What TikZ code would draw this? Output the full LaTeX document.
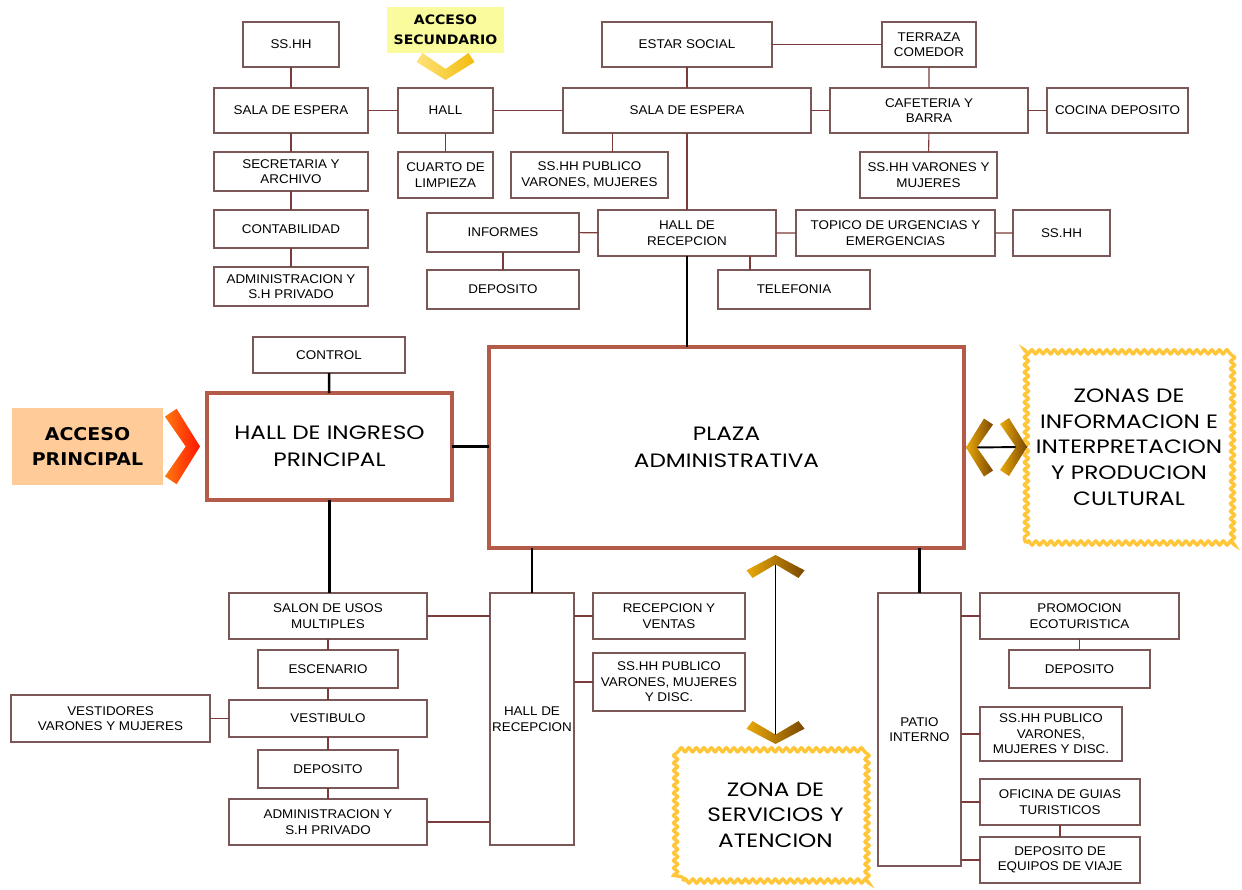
\documentclass[tikz,border=0pt]{standalone}
\usepackage{fontspec}
\setmainfont[FakeStretch=1.06]{Liberation Sans}
\newfontfamily\zonefont[FakeStretch=1.2]{Poppins}
\newfontfamily\accfont[FakeStretch=1.08]{DejaVu Sans}
\usepackage{tikz}
\usetikzlibrary{calc,decorations.pathmorphing}
\definecolor{boxline}{HTML}{7A5858}
\definecolor{linkline}{HTML}{7B3B3B}
\definecolor{hallbrown}{HTML}{B35A48}
\definecolor{waveyellow}{HTML}{FFC63A}
\definecolor{accorange}{HTML}{FFCC99}
\definecolor{accyellow}{HTML}{F9FB9C}
\definecolor{chevbrown}{HTML}{7A4700}
\definecolor{chevgold}{HTML}{EBAA0A}
\definecolor{chevred}{HTML}{FF1200}
\definecolor{chevorange}{HTML}{FF7A10}
\definecolor{chevyellow}{HTML}{F2BC0C}
\definecolor{chevpale}{HTML}{FFE27A}

\begin{document}
\begin{tikzpicture}[x=0.02cm, y=-0.02cm,
  span/.style args={#1/#2/#3/#4}{at={({(#1+#3)/2},{(#2+#4)/2})}, anchor=center,
    minimum width={(#3-#1)*0.02cm}, minimum height={(#4-#2)*0.02cm}},
  room/.style={draw=boxline, line width=0.6pt, fill=white, inner sep=0pt, outer sep=0pt,
    align=center, font=\fontsize{7.2}{8.8}\selectfont},
  bigroom/.style={draw=hallbrown, line width=2.6pt, fill=white, inner sep=0pt, outer sep=0pt,
    align=center, font=\zonefont\fontsize{11}{15.4}\selectfont},
  zone/.style={draw=waveyellow, line width=1.9pt, fill=white, inner sep=0pt, outer sep=0pt,
    decorate, decoration={snake, amplitude=0.04cm, segment length=0.15cm},
    align=center, font=\zonefont\fontsize{11}{14.6}\selectfont},
  access/.style={inner sep=0pt, outer sep=0pt, align=center},
  link/.style={linkline, line width=0.6pt},
  trunk/.style={black, line width=1.4pt},
  twoway/.style={black, line width=1.1pt},
  pics/chev/.style 2 args={code={
    \shade[left color=#1, right color=#2] (0,0) -- (-18,-29) -- (-27,-23) -- (-11,0)
      -- (-27,23) -- (-18,29) -- cycle;}},
]
\useasboundingbox (0,0) rectangle (1242,890);

% upper wing rooms
\node[room, span=243/22/339/67] (ssa) {SS.HH};
\node[room, span=214/88/368/133] (salaA) {SALA DE ESPERA};
\node[room, span=214/152/368/191] (secre) {SECRETARIA Y\\ARCHIVO};
\node[room, span=214/210/368/248] (conta) {CONTABILIDAD};
\node[room, span=214/267/368/306] (adminA) {ADMINISTRACION Y\\S.H PRIVADO};
\node[room, span=398/88/493/133] (hall) {HALL};
\node[room, span=398/152/493/198] (cuarto) {CUARTO DE\\LIMPIEZA};
\node[room, span=602/22/772/67] (estar) {ESTAR SOCIAL};
\node[room, span=882/22/976/67] (terraza) {TERRAZA\\COMEDOR};
\node[room, span=563/88/811/133] (salaB) {SALA DE ESPERA};
\node[room, span=830/88/1028/133] (cafe) {CAFETERIA Y\\BARRA};
\node[room, span=1047/88/1188/133] (cocina) {COCINA DEPOSITO};
\node[room, span=511/152/668/198] (sspub) {SS.HH PUBLICO\\VARONES, MUJERES};
\node[room, span=860/152/997/198] (ssvar) {SS.HH VARONES Y\\MUJERES};
\node[room, span=427/213/579/252] (informes) {INFORMES};
\node[room, span=427/270/579/309] (depA) {DEPOSITO};
\node[room, span=598/210/776/256] (recA) {HALL DE\\RECEPCION};
\node[room, span=796/210/995/256] (topico) {TOPICO DE URGENCIAS Y\\EMERGENCIAS};
\node[room, span=1013/210/1110/256] (ssb) {SS.HH};
\node[room, span=718/270/870/309] (telef) {TELEFONIA};
\node[room, span=253/337/405/373] (control) {CONTROL};

% lower wing rooms
\node[room, span=229/593/427/639] (salon) {SALON DE USOS\\MULTIPLES};
\node[room, span=258/650/398/688] (escen) {ESCENARIO};
\node[room, span=229/700/427/737] (vesti) {VESTIBULO};
\node[room, span=11/695/210/742] (vestid) {VESTIDORES\\VARONES Y MUJERES};
\node[room, span=258/750/398/788] (depB) {DEPOSITO};
\node[room, span=229/799/427/845] (adminB) {ADMINISTRACION Y\\S.H PRIVADO};
\node[room, span=490/593/574/845] (recB) {HALL DE\\RECEPCION};
\node[room, span=593/593/745/639] (ventas) {RECEPCION Y\\VENTAS};
\node[room, span=593/653/745/711] (sspubB) {SS.HH PUBLICO\\VARONES, MUJERES\\Y DISC.};
\node[room, span=878/593/961/866] (patio) {PATIO\\INTERNO};
\node[room, span=980/593/1179/639] (promo) {PROMOCION\\ECOTURISTICA};
\node[room, span=1009/650/1150/688] (depC) {DEPOSITO};
\node[room, span=980/707/1122/761] (sspubC) {SS.HH PUBLICO\\VARONES,\\MUJERES Y DISC.};
\node[room, span=980/779/1140/825] (oficina) {OFICINA DE GUIAS\\TURISTICOS};
\node[room, span=980/837/1140/883] (equipos) {DEPOSITO DE\\EQUIPOS DE VIAJE};

% main spaces
\node[bigroom, span=207/393/452/500] (ingreso) {HALL DE INGRESO\\PRINCIPAL};
\node[bigroom, span=489/347/964/548] (plaza) {PLAZA\\ADMINISTRATIVA};
\node[zone, span=1026/351/1232/543] (zonas) {ZONAS DE\\INFORMACION E\\INTERPRETACION\\Y PRODUCION\\CULTURAL};
\node[zone, span=683/749/868/881] (servicios) {ZONA DE\\SERVICIOS Y\\ATENCION};
\node[access, fill=accorange, span=12/408/163/485,
  font=\accfont\bfseries\fontsize{10}{14}\selectfont] (accP) {ACCESO\\PRINCIPAL};
\node[access, fill=accyellow, span=387/7/504/53,
  font=\accfont\bfseries\fontsize{7.4}{11.2}\selectfont] (accS) {ACCESO\\SECUNDARIO};

% upper wing
\draw[link] (ssa) -- (salaA) -- (secre) -- (conta) -- (adminA);
\draw[link] (salaA) -- (hall) -- (salaB) -- (cafe) -- (cocina);
\draw[link] (hall) -- (cuarto);
\draw[link] (estar) -- (terraza);
\draw[link] (estar) -- (salaB) -- (recA);
\draw[link] (terraza) -- (cafe) -- (ssvar);
\draw[link] ([xshift=0.46cm]sspub.north) -- ([xshift=0.46cm]sspub.north |- salaB.south);
\draw[link] (informes) -- (recA) -- (topico) -- (ssb);
\draw[link] (informes) -- (depA);
\draw[link] ([xshift=-0.88cm]telef.north) -- ([xshift=-0.88cm]telef.north |- recA.south);

% main axes
\draw[trunk] (recA.south) -- (recA.south |- plaza.north);
\draw[trunk] (control) -- (ingreso);
\draw[trunk] (ingreso.east) -- (ingreso.east -| plaza.west);
\draw[trunk] (ingreso.south) -- (ingreso.south |- salon.north);
\draw[trunk] (recB.north |- plaza.south) -- (recB.north);
\draw[trunk] (patio.north |- plaza.south) -- (patio.north);

% lower wing
\draw[link] (salon) -- (escen) -- (vesti) -- (depB) -- (adminB);
\draw[link] (vesti) -- (vestid);
\draw[link] (salon.east) -- (salon.east -| recB.west);
\draw[link] (adminB.east) -- (adminB.east -| recB.west);
\draw[link] (ventas.west) -- (ventas.west -| recB.east);
\draw[link] (sspubB.west) -- (sspubB.west -| recB.east);
\draw[link] (promo.west) -- (promo.west -| patio.east);
\draw[link] (promo) -- (depC);
\draw[link] (sspubC.west) -- (sspubC.west -| patio.east);
\draw[link] (oficina.west) -- (oficina.west -| patio.east);
\draw[link] (oficina) -- (equipos);
\draw[link] (equipos.west) -- (equipos.west -| patio.east);

% two-way links to the zones
\coordinate (zoneL) at ([xshift=0.04cm]plaza.east);
\coordinate (zoneR) at ([xshift=0.02cm]zonas.west);
\draw[twoway] (zoneL) -- (zoneR);
\pic[rotate=180] at (zoneL) {chev={chevgold}{chevbrown}};
\pic at (zoneR) {chev={chevgold}{chevbrown}};
\coordinate (servT) at ([yshift=-0.14cm]servicios.north |- plaza.south);
\coordinate (servB) at ([yshift=0.1cm]servicios.north);
\draw[twoway] (servT) -- (servB);
\pic[rotate=90, xscale=0.85] at (servT) {chev={chevgold}{chevbrown}};
\pic[rotate=-90, xscale=0.85] at (servB) {chev={chevgold}{chevbrown}};

% entrances
\pic[scale=1.3] at ([xshift=-0.14cm]ingreso.west) {chev={chevorange}{chevred}};
\pic[rotate=-90] at ([yshift=0.16cm]hall.north) {chev={chevpale}{chevyellow}};
\end{tikzpicture}
\end{document}
